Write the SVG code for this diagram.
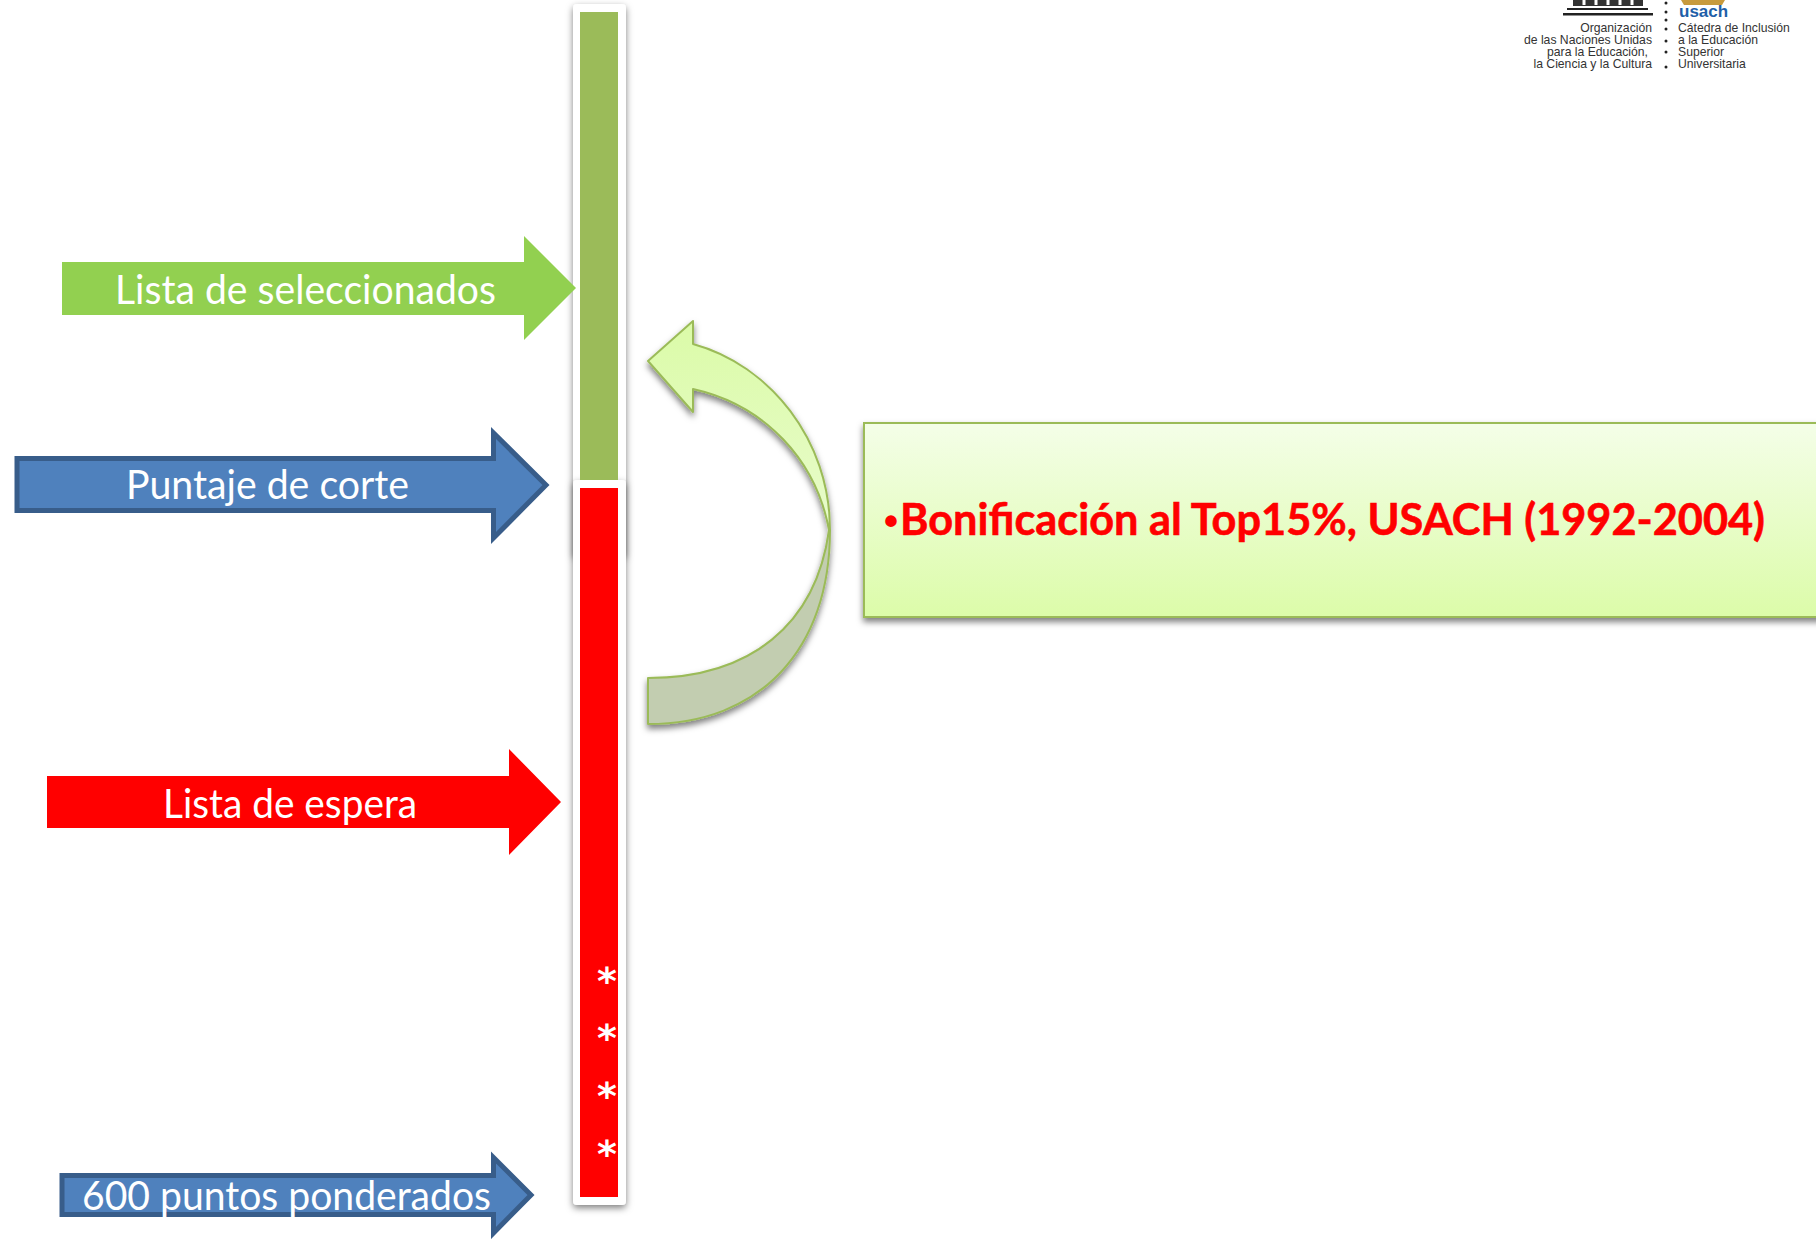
<svg xmlns="http://www.w3.org/2000/svg" width="1816" height="1239" viewBox="0 0 1816 1239">
<style>
.lbl{font-family:"Lato","Open Sans","Liberation Sans",sans-serif;font-size:40px;fill:#fff;font-weight:400}
.ast{font-family:"DejaVu Sans",sans-serif;font-size:38px;font-weight:700;fill:#fff;text-anchor:middle}
.logo{font-family:"Liberation Sans",Arial,sans-serif;font-size:12.200px;fill:#333}
.end{text-anchor:end}
.blue{fill:#4F81BD;stroke:#385D8A;stroke-width:5}
.dot{fill:#222}
</style>
<defs>
<filter id="sh" x="-30%" y="-5%" width="160%" height="110%"><feDropShadow dx="0" dy="3" stdDeviation="3.500" flood-color="#000" flood-opacity="0.5"/></filter>
<filter id="sh2" x="-5%" y="-5%" width="110%" height="115%"><feDropShadow dx="0" dy="4" stdDeviation="3" flood-color="#000" flood-opacity="0.5"/></filter>
<linearGradient id="boxg" x1="0" y1="0" x2="0" y2="1"><stop offset="0" stop-color="#F4FEE8"/><stop offset="1" stop-color="#DCFCA9"/></linearGradient>
<linearGradient id="arrg" gradientUnits="userSpaceOnUse" x1="0" y1="321" x2="0" y2="530"><stop offset="0" stop-color="#DBFBA8"/><stop offset="1" stop-color="#E8FCCB"/></linearGradient>
</defs>
<rect width="1816" height="1239" fill="#fff"/>

<g id="bar">
<rect x="573" y="4" width="53" height="552" rx="4" fill="#fff" filter="url(#sh)"/>
<rect x="573" y="480" width="53" height="725" rx="4" fill="#fff" filter="url(#sh)"/>
<rect x="580" y="12" width="38" height="468" fill="#9BBB59"/>
<rect x="580" y="488" width="38" height="709" fill="#FF0000"/>
<text class="ast" x="607" y="994">*</text>
<text class="ast" x="607" y="1051">*</text>
<text class="ast" x="607" y="1109">*</text>
<text class="ast" x="607" y="1167">*</text>
</g>

<g id="connectors">
<g id="arrow-seleccionados">
<path d="M62 262H524V236L576 288L524 340V315H62Z" fill="#92D050"/>
<text class="lbl" x="115" y="304" textLength="381" lengthAdjust="spacingAndGlyphs">Lista de seleccionados</text>
</g>
<g id="arrow-corte">
<path class="blue" d="M17 458.500H493.500V433L546 485L493.500 538V510.500H17Z"/>
<text class="lbl" x="126" y="499" textLength="283" lengthAdjust="spacingAndGlyphs">Puntaje de corte</text>
</g>
<g id="arrow-espera">
<path d="M47 776H509V749L561 802L509 855V828H47Z" fill="#FF0000"/>
<text class="lbl" x="163" y="818" textLength="254" lengthAdjust="spacingAndGlyphs">Lista de espera</text>
</g>
<g id="arrow-600">
<path class="blue" d="M62 1175.500H493.500V1157.500L531 1195L493.500 1233V1214.500H62Z"/>
<text class="lbl" x="82" y="1210" textLength="409" lengthAdjust="spacingAndGlyphs">600 puntos ponderados</text>
</g>
<g id="curved-arrow" filter="url(#sh2)" stroke="#9BBB59" stroke-width="2" stroke-linejoin="round">
<path d="M830 530C830 650 760 724 648 724V678C750 678 816 625 829 530Z" fill="#C2CDB0"/>
<path d="M829 530C816 460 765 405 693 389V412L648 361L693 321V344C770 365 830 440 830 530Z" fill="url(#arrg)"/>
</g>
</g>

<g id="box">
<rect x="864" y="423" width="960" height="194" fill="url(#boxg)" stroke="#9BBB59" stroke-width="2" filter="url(#sh2)"/>
<text x="884" y="535" font-family="'Liberation Sans',sans-serif" font-weight="700" font-size="40" fill="#FF0000">•</text>
<text x="900" y="535" font-family="Lato,'Open Sans','Liberation Sans',sans-serif" font-weight="700" font-size="44" fill="#FF0000" stroke="#FF0000" stroke-width="0.600" textLength="865" lengthAdjust="spacingAndGlyphs">Bonificación al Top15%, USACH (1992-2004)</text>
</g>

<g id="logo">
<rect x="1573" y="0" width="70" height="6" fill="#333"/>
<path d="M1584 0V5M1596 0V5M1608 0V5M1620 0V5M1632 0V5" stroke="#fff" stroke-width="3"/>
<rect x="1567" y="8" width="81" height="2" fill="#222"/>
<rect x="1563" y="13" width="90" height="2.500" fill="#222"/>
<path d="M1681 0H1725L1722 5H1684Z" fill="#C79A3D"/>
<text x="1679" y="17" font-family="'Liberation Sans',Arial,sans-serif" font-weight="700" font-size="17" fill="#1F5FA8">usach</text>
<circle class="dot" cx="1666" cy="3" r="1.500"/><circle class="dot" cx="1666" cy="12" r="1.500"/><circle class="dot" cx="1666" cy="20" r="1.500"/><circle class="dot" cx="1666" cy="29" r="1.500"/><circle class="dot" cx="1666" cy="41" r="1.500"/><circle class="dot" cx="1666" cy="52" r="1.500"/><circle class="dot" cx="1666" cy="67" r="1.500"/>
<text class="logo end" x="1652" y="32">Organización</text>
<text class="logo end" x="1652" y="44">de las Naciones Unidas</text>
<text class="logo end" x="1648" y="56">para la Educación,</text>
<text class="logo end" x="1652" y="68">la Ciencia y la Cultura</text>
<text class="logo" x="1678" y="32">Cátedra de Inclusión</text>
<text class="logo" x="1678" y="44">a la Educación</text>
<text class="logo" x="1678" y="56">Superior</text>
<text class="logo" x="1678" y="68">Universitaria</text>
</g>
</svg>
